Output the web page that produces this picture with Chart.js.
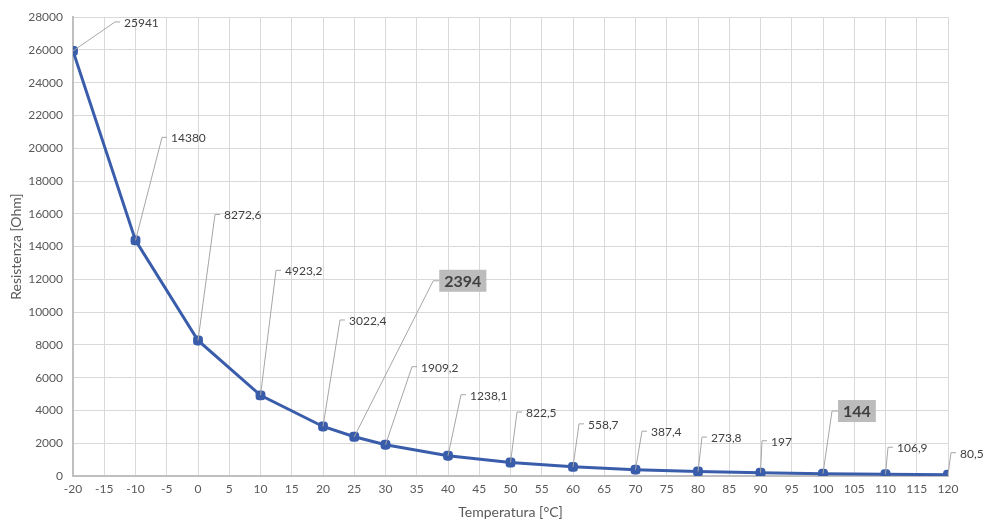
<!DOCTYPE html>
<html>
<head>
<meta charset="utf-8">
<script src="https://cdn.jsdelivr.net/npm/chart.js@4.4.0/dist/chart.umd.min.js"></script>
<style>
html,body{margin:0;padding:0;background:#fff;}
#wrap{width:984px;height:521px;}
</style>
</head>
<body>
<div id="wrap"><canvas id="c" width="984" height="521"></canvas></div>
<script>
// Data
const temperatures = [-20, -10, 0, 10, 20, 25, 30, 40, 50, 60, 70, 80, 90, 100, 110, 120];
const resistances = [25941, 14380, 8272.6, 4923.2, 3022.4, 2394, 1909.2, 1238.1, 822.5, 558.7, 387.4, 273.8, 197, 144, 106.9, 80.5];
const highlighted = [25, 100];
const xTitle = 'Temperatura [°C]';
const yTitle = 'Resistenza [Ohm]';

// Label placement (pixel offsets from each point, style only)
const labelOffsets = [
  [51, -29], [35.5, -103], [26, -126], [24.5, -125], [26, -106.5], [85, -156],
  [35.5, -78], [22, -61], [15.5, -50.5], [15, -43], [15.5, -38.5], [13, -34.5],
  [10.5, -32], [15, -62.6], [11.5, -27], [12, -22]
];

const FONT = 'Lato, "Open Sans", sans-serif';
const TXT = '#595959';

const fmt = v => String(v).replace('.', ',');

const labelPlugin = {
  id: 'callouts',
  afterDatasetsDraw(chart) {
    const ctx = chart.ctx;
    const xs = chart.scales.x, ys = chart.scales.y;
    ctx.save();
    temperatures.forEach((t, i) => {
      const v = resistances[i];
      const px = xs.getPixelForValue(t), py = ys.getPixelForValue(v);
      const tx = px + labelOffsets[i][0], ty = py + labelOffsets[i][1];
      const hl = highlighted.includes(t);
      const cornerX = hl ? tx - 6 : tx - 9;
      ctx.strokeStyle = '#a6a6a6';
      ctx.lineWidth = 1;
      ctx.beginPath();
      ctx.moveTo(px, py);
      ctx.lineTo(cornerX, ty);
      ctx.lineTo(hl ? tx : tx - 4, ty);
      ctx.stroke();
      const s = fmt(v);
      if (hl) {
        ctx.font = 'bold 16px ' + FONT;
        const w = ctx.measureText(s).width;
        ctx.fillStyle = '#bcbcbc';
        ctx.fillRect(tx, ty - 11, w + 10, 22);
        ctx.fillStyle = '#404040';
        ctx.textBaseline = 'middle';
        ctx.textAlign = 'left';
        ctx.fillText(s, tx + 5, ty + 1);
      } else {
        ctx.font = '12px ' + FONT;
        ctx.fillStyle = '#404040';
        ctx.textBaseline = 'middle';
        ctx.textAlign = 'left';
        ctx.fillText(s, tx, ty + 1);
      }
    });
    ctx.restore();
  }
};

new Chart(document.getElementById('c'), {
  type: 'scatter',
  data: {
    datasets: [{
      data: temperatures.map((t, i) => ({x: t, y: resistances[i]})),
      showLine: true,
      borderColor: '#3a5dab',
      backgroundColor: '#3a5dab',
      borderWidth: 3,
      pointStyle: 'rectRounded',
      pointRadius: 4,
      pointHoverRadius: 4,
      tension: 0
    }]
  },
  options: {
    responsive: false,
    animation: false,
    devicePixelRatio: 1,
    layout: {padding: {left: 0, right: 36, top: 17, bottom: 0}},
    plugins: {legend: {display: false}, tooltip: {enabled: false}},
    scales: {
      x: {
        type: 'linear', min: -20, max: 120,
        ticks: {stepSize: 5, color: TXT, font: {family: FONT, size: 12}, padding: 6, maxRotation: 0, autoSkip: false,
          callback: v => String(v)},
        grid: {color: '#d9d9d9', lineWidth: 1, drawTicks: false},
        border: {color: '#bfbfbf', width: 2},
        title: {display: true, text: xTitle, color: TXT, font: {family: FONT, size: 14}, padding: {top: 2, bottom: 0}},
        afterFit: s => { s.height = 45; }
      },
      y: {
        type: 'linear', min: 0, max: 28000,
        ticks: {stepSize: 2000, color: TXT, font: {family: FONT, size: 12}, padding: 10,
          callback: v => String(v)},
        grid: {color: '#d9d9d9', lineWidth: 1, drawTicks: false},
        border: {color: '#bfbfbf', width: 2},
        title: {display: true, text: yTitle, color: TXT, font: {family: FONT, size: 14}, padding: {top: 8, bottom: 0}},
        afterFit: s => { s.width = 73; }
      }
    }
  },
  plugins: [labelPlugin]
});
</script>
</body>
</html>
